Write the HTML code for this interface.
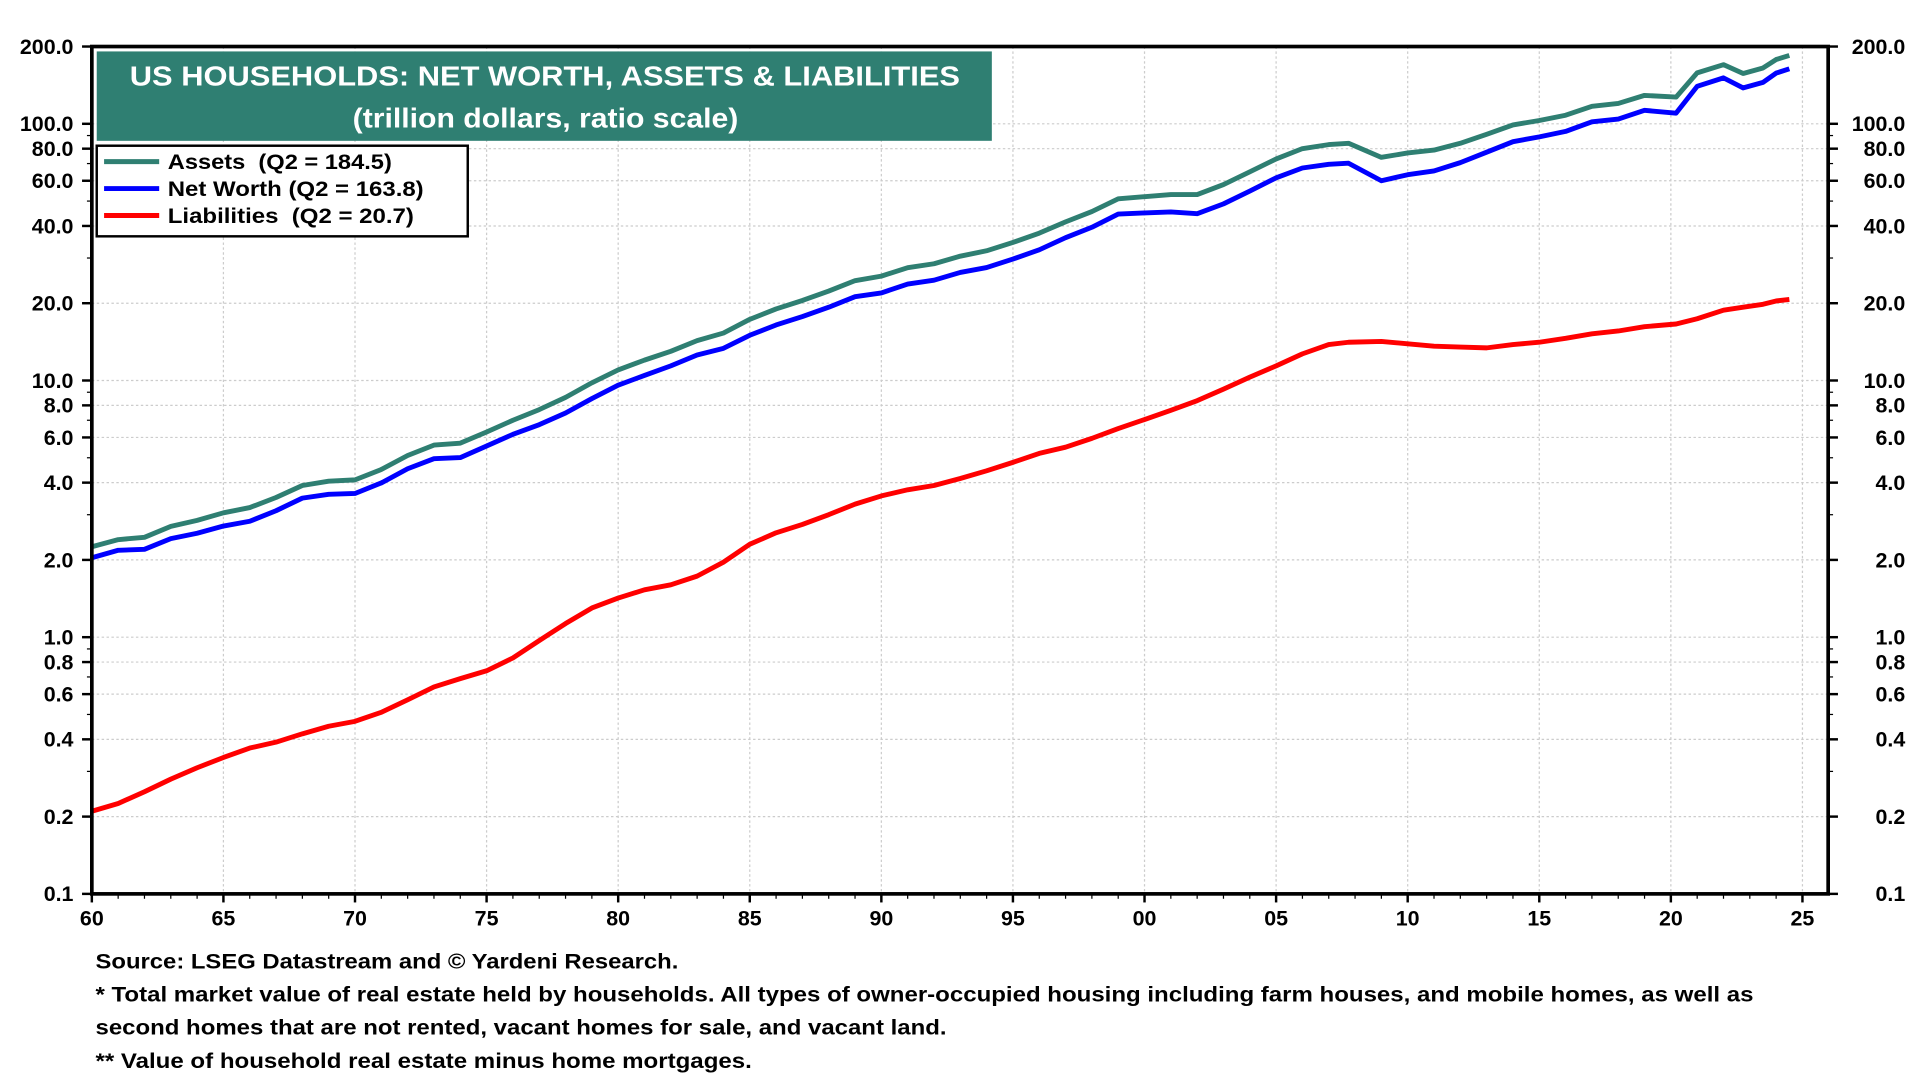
<!DOCTYPE html>
<html><head><meta charset="utf-8"><style>
html,body{margin:0;padding:0;background:#fff;width:1920px;height:1080px;overflow:hidden}
svg{display:block}
text{font-family:"Liberation Sans",Arial,sans-serif;font-weight:bold}
</style></head><body>
<svg id="chart" width="1920" height="1080" viewBox="0 0 1568 882" xmlns="http://www.w3.org/2000/svg">
<g id="grid"></g>
<g id="series"></g>
<rect x="75" y="38" width="1418" height="692" fill="none" stroke="#000" stroke-width="3"/>
<g id="axes"></g>
<g>
<rect x="79" y="42" width="731" height="73" fill="#2f7f72"/>
<text x="106" y="70" fill="#fff" font-size="23" textLength="678" lengthAdjust="spacingAndGlyphs">US HOUSEHOLDS: NET WORTH, ASSETS &amp; LIABILITIES</text>
<text x="288" y="104" fill="#fff" font-size="23" textLength="315" lengthAdjust="spacingAndGlyphs">(trillion dollars, ratio scale)</text>
</g>
<g>
<rect x="79" y="119" width="303" height="74" fill="#fff" stroke="#000" stroke-width="2"/>
<g><line x1="85" y1="132" x2="130" y2="132" stroke="#2f7f72" stroke-width="4"/><text x="137" y="138" font-size="17" textLength="183" lengthAdjust="spacingAndGlyphs" xml:space="preserve">Assets  (Q2 = 184.5)</text></g>
<g><line x1="85" y1="154" x2="130" y2="154" stroke="#0000ff" stroke-width="4"/><text x="137" y="160" font-size="17" textLength="209" lengthAdjust="spacingAndGlyphs">Net Worth (Q2 = 163.8)</text></g>
<g><line x1="85" y1="176" x2="130" y2="176" stroke="#ff0000" stroke-width="4"/><text x="137" y="182" font-size="17" textLength="201" lengthAdjust="spacingAndGlyphs" xml:space="preserve">Liabilities  (Q2 = 20.7)</text></g>
</g>
<g font-size="17">
<text x="78" y="791" textLength="476" lengthAdjust="spacingAndGlyphs">Source: LSEG Datastream and © Yardeni Research.</text>
<text x="78" y="818" textLength="1354" lengthAdjust="spacingAndGlyphs">* Total market value of real estate held by households. All types of owner-occupied housing including farm houses, and mobile homes, as well as</text>
<text x="78" y="845" textLength="695" lengthAdjust="spacingAndGlyphs">second homes that are not rented, vacant homes for sale, and vacant land.</text>
<text x="78" y="872" textLength="536" lengthAdjust="spacingAndGlyphs">** Value of household real estate minus home mortgages.</text>
</g>
</svg>
<script>
const years=[1960,1961,1962,1963,1964,1965,1966,1967,1968,1969,1970,1971,1972,1973,1974,1975,1976,1977,1978,1979,1980,1981,1982,1983,1984,1985,1986,1987,1988,1989,1990,1991,1992,1993,1994,1995,1996,1997,1998,1999,2000,2001,2002,2003,2004,2005,2006,2007,2007.75,2009,2010,2011,2012,2013,2014,2015,2016,2017,2018,2019,2020.2,2021,2022,2022.75,2023.5,2024,2024.5];
const assets=[2.25,2.4,2.45,2.7,2.85,3.05,3.2,3.5,3.9,4.05,4.1,4.5,5.1,5.6,5.7,6.3,7.0,7.7,8.6,9.8,11.0,12.0,13.0,14.3,15.3,17.3,19.0,20.5,22.3,24.5,25.5,27.5,28.5,30.5,32,34.5,37.5,41.5,45.5,51,52,53,53,58,65,73,80,83,84,74,77,79,84,91,99,103,108,117,120,129,127,158,170,157,165,178,184.5];
const netWorth=[2.04,2.18,2.2,2.42,2.54,2.71,2.83,3.11,3.48,3.6,3.63,3.99,4.53,4.96,5.01,5.56,6.17,6.73,7.47,8.5,9.58,10.47,11.4,12.57,13.34,15.0,16.45,17.75,19.3,21.2,21.95,23.75,24.6,26.35,27.55,29.7,32.3,36,39.55,44.5,44.95,45.35,44.65,48.75,54.7,61.6,67.3,69.5,70.2,60,63.3,65.5,70.6,77.5,85.2,88.9,93.4,101.8,104.4,112.8,110,140,151,138,145,157.5,163.8];
const liabilities=[0.21,0.225,0.25,0.28,0.31,0.34,0.37,0.39,0.42,0.45,0.47,0.51,0.57,0.64,0.69,0.74,0.83,0.97,1.13,1.30,1.42,1.53,1.60,1.73,1.96,2.3,2.55,2.75,3.0,3.3,3.55,3.75,3.9,4.15,4.45,4.8,5.2,5.5,5.95,6.5,7.05,7.65,8.35,9.25,10.3,11.4,12.7,13.8,14.1,14.2,13.9,13.6,13.5,13.4,13.8,14.1,14.6,15.2,15.6,16.2,16.6,17.4,18.8,19.3,19.8,20.4,20.7];
const yTicks=[200,100,80,60,40,20,10,8,6,4,2,1,0.8,0.6,0.4,0.2,0.1];
const xTicks=[1960,1965,1970,1975,1980,1985,1990,1995,2000,2005,2010,2015,2020,2025];
const NS="http://www.w3.org/2000/svg";
const L=75,R=1493,T=38,B=730;
const yMax=200,yMin=0.1;
function ys(v){return T+(Math.log10(yMax)-Math.log10(v))/(Math.log10(yMax)-Math.log10(yMin))*(B-T);}
function xs(yr){return L+(yr-1960)/(2025-1960)*(1472-L);}
function mk(tag,attrs,parent){const e=document.createElementNS(NS,tag);for(const k in attrs)e.setAttribute(k,attrs[k]);parent.appendChild(e);return e;}
const grid=document.getElementById('grid'),axes=document.getElementById('axes'),ser=document.getElementById('series');
yTicks.forEach(v=>{const y=ys(v);
 if(v<200&&v>0.1){const g=mk('line',{x1:L,x2:R,y1:y,y2:y,stroke:'#ccc','stroke-width':1,'stroke-dasharray':'2,2'},grid);
 
 }
 const lbl=v>=1?v.toFixed(1):String(v);
 const t1=mk('text',{x:60,y:y+6,'text-anchor':'end','font-size':17.5},axes);t1.textContent=lbl;
 
 
 const t2=mk('text',{x:1556,y:y+6,'text-anchor':'end','font-size':17.5},axes);t2.textContent=lbl;
 
 
 mk('line',{x1:L-8,x2:L,y1:y,y2:y,stroke:'#000','stroke-width':2},axes);
 mk('line',{x1:R,x2:R+8,y1:y,y2:y,stroke:'#000','stroke-width':2},axes);
});
[0.1,1,10,100].forEach(d=>{for(let k=2;k<=9;k++){const v=d*k;if(v>200)continue;const y=ys(v);
 mk('line',{x1:L-4,x2:L,y1:y,y2:y,stroke:'#000','stroke-width':1},axes);
 mk('line',{x1:R,x2:R+4,y1:y,y2:y,stroke:'#000','stroke-width':1},axes);}});
xTicks.forEach(yr=>{const x=xs(yr);
 if(yr>1960){const g=mk('line',{x1:x,x2:x,y1:T,y2:B,stroke:'#ccc','stroke-width':1,'stroke-dasharray':'2,2'},grid);
 
 }
 mk('line',{x1:x,x2:x,y1:B,y2:B+7,stroke:'#000','stroke-width':2},axes);
 const t=mk('text',{x:x,y:B+26,'text-anchor':'middle','font-size':17.5},axes);t.textContent=String(yr%100).padStart(2,'0');
 
 
});
for(let yr=1960;yr<=2025;yr++){const x=xs(yr);mk('line',{x1:x,x2:x,y1:B,y2:B+4,stroke:'#000','stroke-width':1},axes);}
function line(vals,color,name){const d=vals.map((v,i)=>(i?'L':'M')+xs(years[i]).toFixed(1)+','+ys(v).toFixed(1)).join(' ');
 const p=mk('path',{d:d,fill:'none',stroke:color,'stroke-width':4,'stroke-linejoin':'round'},ser);
 
 }
line(liabilities,'#ff0000','liabilities-line');
line(netWorth,'#0000ff','net-worth-line');
line(assets,'#2f7f72','assets-line');
</script>
</body></html>
